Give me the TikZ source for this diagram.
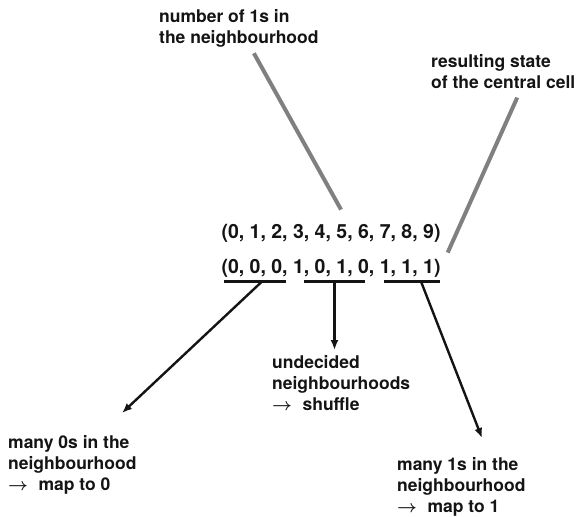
\documentclass[tikz,border=0pt]{standalone}
\usepackage{fontspec}
\setmainfont{TeX Gyre Heros}
\usetikzlibrary{arrows.meta,positioning}
\definecolor{leadgray}{HTML}{808080}
\definecolor{inkblack}{HTML}{141414}
\tikzset{
  >=Latex,
  tuple/.style={font=\bfseries\fontsize{19.5}{23}\selectfont, inner sep=0pt, text=inkblack},
  caption/.style={font=\bfseries\fontsize{17.5}{21}\selectfont, align=left,
    inner sep=0pt, anchor=north west, text=inkblack},
  groupbar/.style={rectangle, fill=inkblack, minimum height=3.5pt, inner sep=0pt},
  pointer/.style={-{Latex[length=10pt,width=8pt]}, line width=2.4pt, draw=inkblack},
  leader/.style={line width=4pt, draw=leadgray}
}
\newcommand{\mapsarrow}{{\boldmath$\rightarrow$}\hspace{0.6em}}

\begin{document}
\begin{tikzpicture}[x=1pt,y=-1pt]
\useasboundingbox (0,0) rectangle (577,516);
% the two rows of the rule
\node[tuple, anchor=base] (counts) at (331,238) {(0, 1, 2, 3, 4, 5, 6, 7, 8, 9)};
\node[tuple, anchor=base] (states) at (331,273) {(0, 0, 0, 1, 0, 1, 0, 1, 1, 1)};
% groups under the second row
\node[groupbar, minimum width=62pt] (lowbar) at (255,281.5) {};
\node[groupbar, minimum width=61pt] (midbar) at (334.5,281.5) {};
\node[groupbar, minimum width=56pt] (highbar) at (412,281.5) {};
% captions
\node[caption] (numlabel) at (159,9) {number of 1s in\\the neighbourhood};
\node[caption] (reslabel) at (431,54) {resulting state\\of the central cell};
\node[caption] (midlabel) at (272,355) {undecided\\neighbourhoods\\\mapsarrow shuffle};
\node[caption] (lowlabel) at (8,435) {many 0s in the\\neighbourhood\\\mapsarrow map to 0};
\node[caption] (highlabel) at (397,457) {many 1s in the\\neighbourhood\\\mapsarrow map to 1};
% arrow ends
\coordinate (lowtip) at (122,413);
\coordinate (midtip) at (334.5,350);
\coordinate (hightip) at (482,438);
% leaders and arrows
\draw[leader] ([shift={(15pt,-6pt)}]numlabel.south) -- ([shift={(10pt,14pt)}]counts.north);
\draw[leader] ([shift={(14pt,-9pt)}]reslabel.south) -- ([shift={(7pt,6pt)}]states.north east);
\draw[pointer] ([xshift=7pt]lowbar.center) -- (lowtip);
\draw[pointer] (midbar.center) -- (midtip);
\draw[pointer] ([xshift=9pt]highbar.center) -- (hightip);
\end{tikzpicture}
\end{document}
